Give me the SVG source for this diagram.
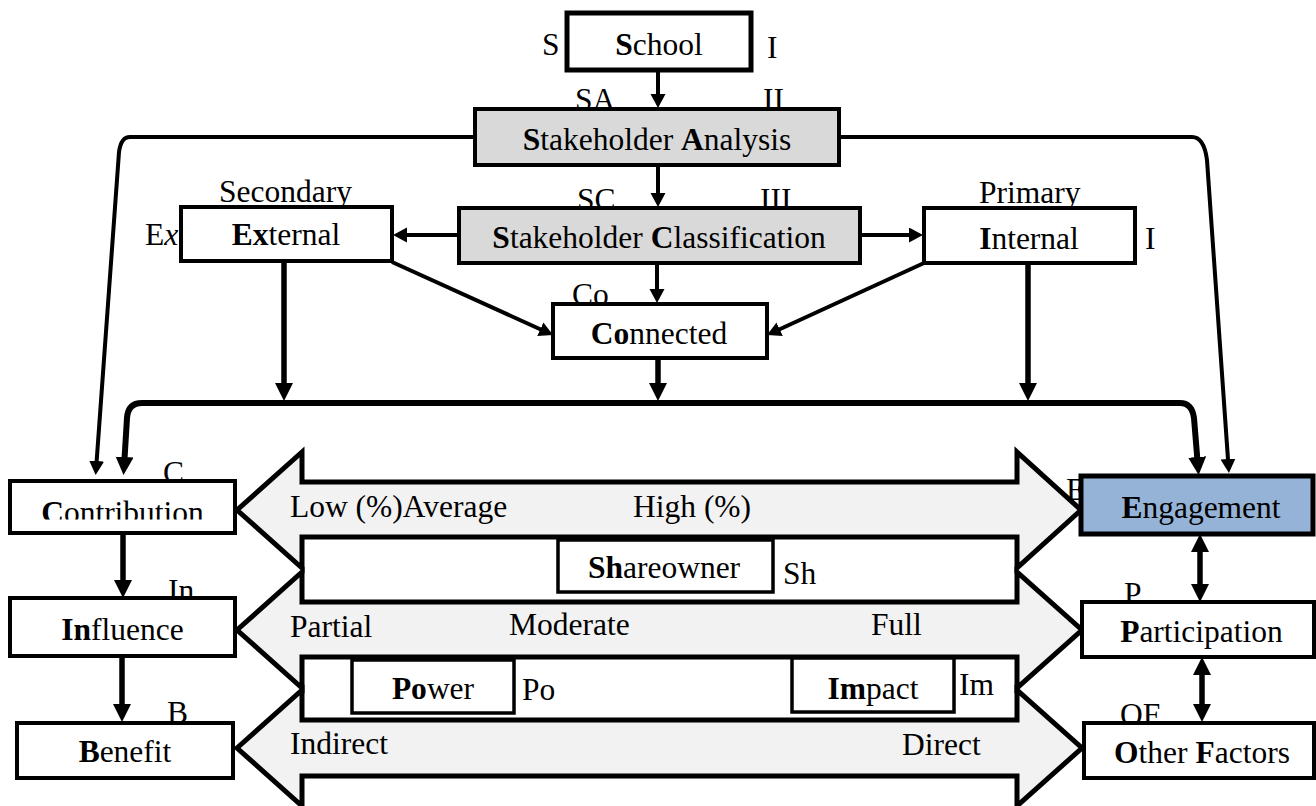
<svg xmlns="http://www.w3.org/2000/svg" width="1316" height="806" viewBox="0 0 1316 806">
<defs>
<style>
text{font-family:"Liberation Serif","Times New Roman",serif;font-size:31.5px;fill:#000}
.b{font-weight:bold}
.m{text-anchor:middle}
.box{fill:#fff;stroke:#000;stroke-width:4}
.gray{fill:#d9d9d9}
.blk{fill:#f2f2f2;stroke:#000;stroke-width:5;stroke-linejoin:miter}
.ln{fill:none;stroke:#000;stroke-width:4}
.lnT{fill:none;stroke:#000;stroke-width:5.5}
</style>
<marker id="ah" markerUnits="userSpaceOnUse" markerWidth="16" markerHeight="16" refX="9" refY="7.5" orient="auto"><path d="M0,0 L14,7.5 L0,15 Z"/></marker>
<marker id="ahT" markerUnits="userSpaceOnUse" markerWidth="20" markerHeight="20" refX="10" refY="9" orient="auto-start-reverse"><path d="M0,0 L18,9 L0,18 Z"/></marker>
<clipPath id="clipC"><rect x="10" y="470" width="225" height="49.5"/></clipPath>
</defs>
<rect width="1316" height="806" fill="#fff"/>
<text x="1066" y="500">E</text>
<g id="scale-arrows">
<polygon class="blk" points="237,510 302,452 302,482 1017,482 1017,452 1081,510 1017,568 1017,537 302,537 302,568"/>
<polygon class="blk" points="237,630 302,572 302,602 1017,602 1017,572 1082,630 1017,688 1017,657 302,657 302,688"/>
<polygon class="blk" points="237,748 302,690 302,720 1017,720 1017,690 1082,748 1017,806 1017,776 302,776 302,806"/>
<text x="290" y="517">Low (%)Average</text>
<text x="633" y="517">High (%)</text>
<text x="290" y="637">Partial</text>
<text x="509" y="635">Moderate</text>
<text x="871" y="635">Full</text>
<text x="290" y="754">Indirect</text>
<text x="902" y="755">Direct</text>
</g>
<g id="connectors">
<path class="ln" d="M658,70 V103" marker-end="url(#ah)"/>
<path class="ln" d="M658,165 V202" marker-end="url(#ah)"/>
<path class="ln" d="M459,235 H398" marker-end="url(#ah)"/>
<path class="ln" d="M860,235 H918" marker-end="url(#ah)"/>
<path class="ln" d="M657,263 V298" marker-end="url(#ah)"/>
<path class="ln" d="M392,262 L548.5,333" marker-end="url(#ah)"/>
<path class="ln" d="M924,263 L771.5,333" marker-end="url(#ah)"/>
<path class="lnT" d="M284,261 V393" marker-end="url(#ahT)"/>
<path class="lnT" d="M658,358 V393" marker-end="url(#ahT)"/>
<path class="lnT" d="M1028,263 V393" marker-end="url(#ahT)"/>
<path class="lnT" style="stroke-width:6" d="M124,467 L127,418 Q128,403 142,403 L1180,403 Q1192,403 1194,418 L1198,467" marker-start="url(#ahT)" marker-end="url(#ahT)"/>
<path class="ln" d="M475,137 L130,137 Q121,137 119,152 L96,470" marker-end="url(#ah)"/>
<path class="ln" d="M838,137 L1192,137 Q1204,137 1207,160 L1228.6,468" marker-end="url(#ah)"/>
<path class="lnT" d="M123,533 V590" marker-end="url(#ahT)"/>
<path class="lnT" d="M122,656 V714" marker-end="url(#ahT)"/>
<path class="lnT" d="M1200,542 V594" marker-start="url(#ahT)" marker-end="url(#ahT)"/>
<path class="lnT" d="M1202,665 V714" marker-start="url(#ahT)" marker-end="url(#ahT)"/>
</g>
<g id="school">
<text x="542" y="55">S</text>
<text x="767" y="58">I</text>
<rect class="box" style="stroke-width:5" x="567" y="13" width="184" height="57"/>
<text class="m" x="659" y="55"><tspan class="b">S</tspan>chool</text>
</g>
<g id="stakeholder-analysis">
<text x="575" y="110">SA</text>
<text x="763" y="110">II</text>
<rect class="box gray" x="475" y="109" width="364" height="56"/>
<text class="m" x="657" y="150"><tspan class="b">S</tspan>takeholder <tspan class="b">A</tspan>nalysis</text>
</g>
<g id="stakeholder-classification">
<text x="577" y="210">SC</text>
<text x="760" y="210">III</text>
<rect class="box gray" x="459" y="208" width="401" height="55"/>
<text class="m" x="659" y="248"><tspan class="b">S</tspan>takeholder <tspan class="b">C</tspan>lassification</text>
</g>
<g id="external">
<text x="219" y="202">Secondary</text>
<text x="145" y="245">E<tspan font-style="italic">x</tspan></text>
<rect class="box" x="181" y="207" width="211" height="54"/>
<text class="m" x="286" y="245"><tspan class="b">Ex</tspan>ternal</text>
</g>
<g id="internal">
<text x="979" y="203">Primary</text>
<text x="1145" y="249">I</text>
<rect class="box" x="924" y="208" width="211" height="55"/>
<text class="m" x="1029" y="249"><tspan class="b">I</tspan>nternal</text>
</g>
<g id="connected">
<text x="572" y="305">Co</text>
<rect class="box" x="553" y="304" width="214" height="54"/>
<text class="m" x="659" y="344"><tspan class="b">Co</tspan>nnected</text>
</g>
<g id="contribution">
<text x="163" y="483">C</text>
<rect class="box" x="10" y="481" width="225" height="52"/>
<text class="m" x="122.5" y="523" clip-path="url(#clipC)"><tspan class="b">C</tspan>ontribution</text>
</g>
<g id="influence">
<text x="168" y="601">In</text>
<rect class="box" x="10" y="598" width="225" height="58"/>
<text class="m" x="122.5" y="640"><tspan class="b">In</tspan>fluence</text>
</g>
<g id="benefit">
<text x="167" y="723">B</text>
<rect class="box" x="17" y="723" width="216" height="55"/>
<text class="m" x="125" y="762"><tspan class="b">B</tspan>enefit</text>
</g>
<g id="engagement">
<rect class="box" style="fill:#95b3d7;stroke-width:5" x="1081" y="476" width="232" height="58"/>
<text class="m" x="1201" y="518"><tspan class="b">E</tspan>ngagement</text>
</g>
<g id="participation">
<text x="1124" y="604">P</text>
<rect class="box" x="1082" y="602" width="232" height="55"/>
<text class="m" x="1201.5" y="642"><tspan class="b">P</tspan>articipation</text>
</g>
<g id="other-factors">
<text x="1120" y="725">OF</text>
<rect class="box" x="1084" y="723" width="230" height="55"/>
<text class="m" x="1202" y="763"><tspan class="b">O</tspan>ther <tspan class="b">F</tspan>actors</text>
</g>
<g id="shareowner">
<rect class="box" style="stroke-width:3.5" x="558" y="540" width="215" height="52"/>
<text class="m" x="664" y="578"><tspan class="b">Sh</tspan>areowner</text>
<text x="783" y="584">Sh</text>
</g>
<g id="power">
<rect class="box" style="stroke-width:3.5" x="352" y="660" width="162" height="53"/>
<text class="m" x="433" y="699"><tspan class="b">Po</tspan>wer</text>
<text x="522" y="700">Po</text>
</g>
<g id="impact">
<rect class="box" style="stroke-width:3.5" x="792" y="658" width="162" height="54"/>
<text class="m" x="873" y="699"><tspan class="b">Im</tspan>pact</text>
<text x="959" y="695">Im</text>
</g>
</svg>
